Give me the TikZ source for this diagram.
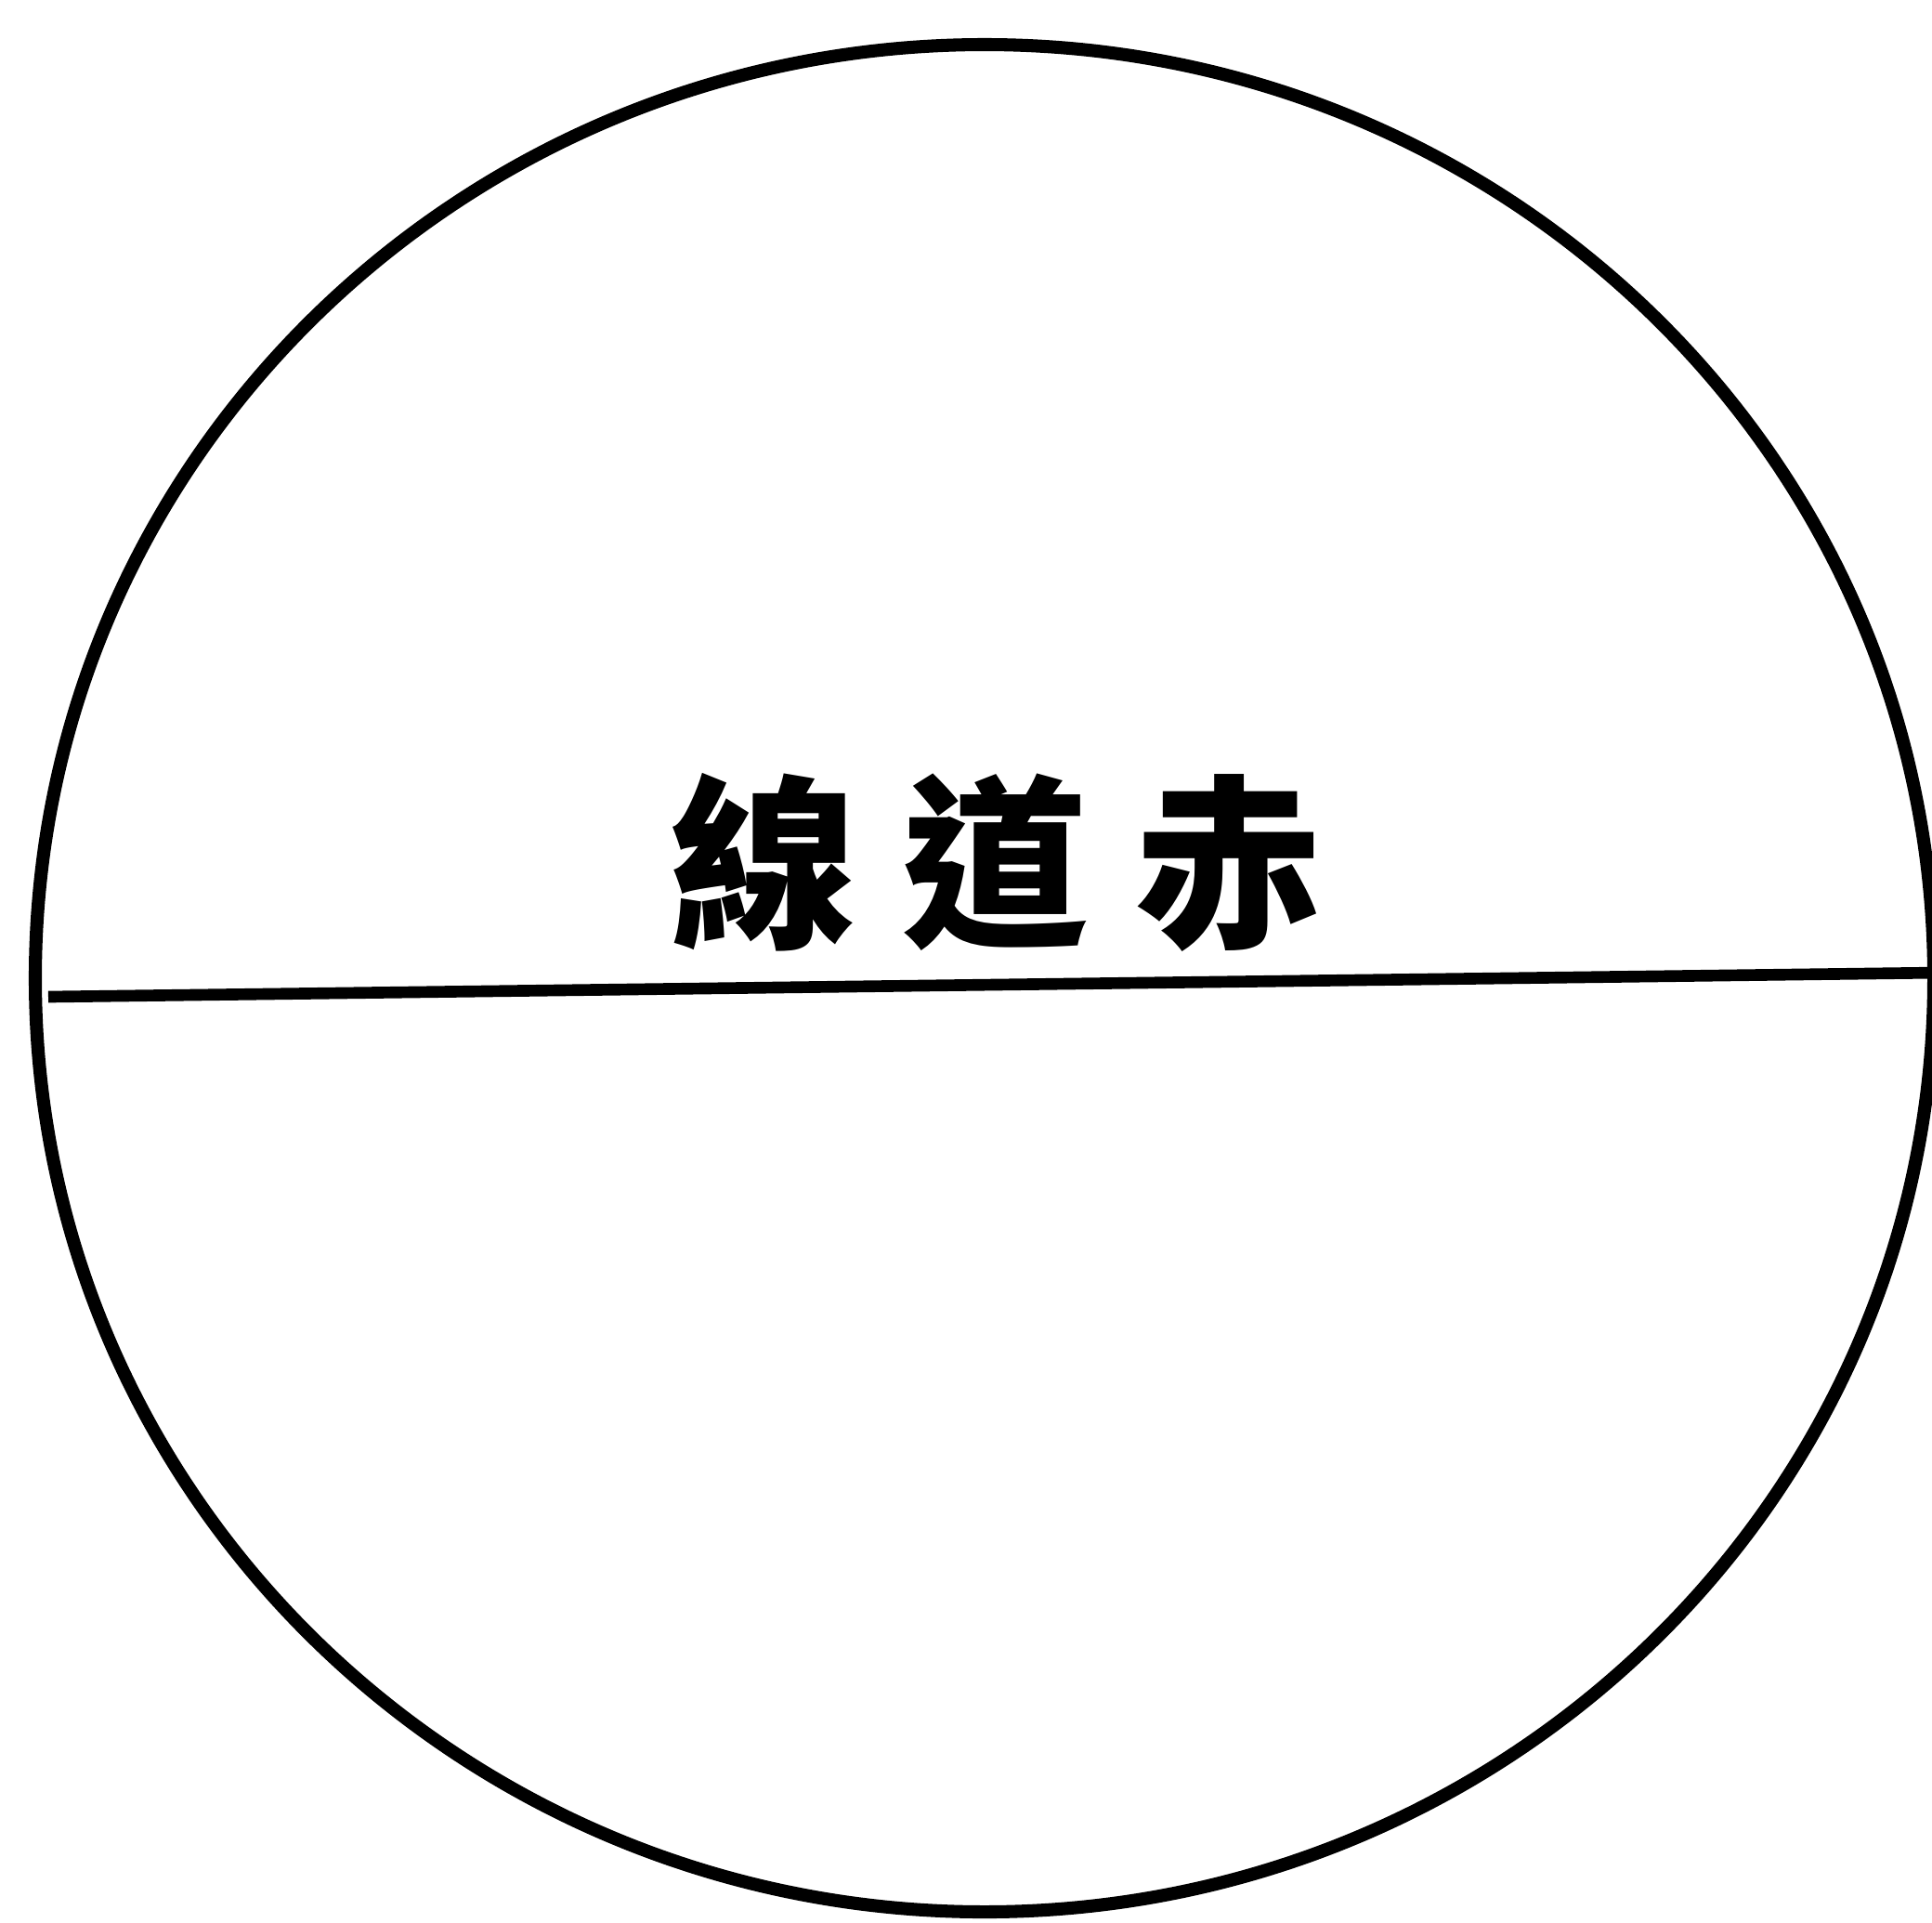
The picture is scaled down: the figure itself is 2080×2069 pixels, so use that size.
\documentclass[tikz,border=0pt]{standalone}
\usepackage{fontspec}
\newfontfamily\cjk{Noto Sans CJK TC}
\usetikzlibrary{positioning}

\begin{document}
\begin{tikzpicture}[
    x=0.01cm, y=-0.01cm,
    globe/.style={draw, line width=4pt},
    equator/.style={draw, line width=3.6pt},
    tag/.style={inner sep=0pt, font=\cjk\bfseries\fontsize{57}{57}\selectfont}
]
\useasboundingbox (0,0) rectangle (2080,2069);
\clip (0,0) rectangle (2080,2069);

% Globe outline
\coordinate (centre) at (1060,1053);
\draw[globe] (centre) ellipse [x radius=1022, y radius=1005];

% Equator
\coordinate (west) at (52,1073);
\coordinate (east) at (2090,1047);
\draw[equator] (west) -- (east);

% Label
\node[tag] (eqname) at (1072,928) {線\hspace{0.5cm}道\hspace{0.5cm}赤};

\end{tikzpicture}
\end{document}
